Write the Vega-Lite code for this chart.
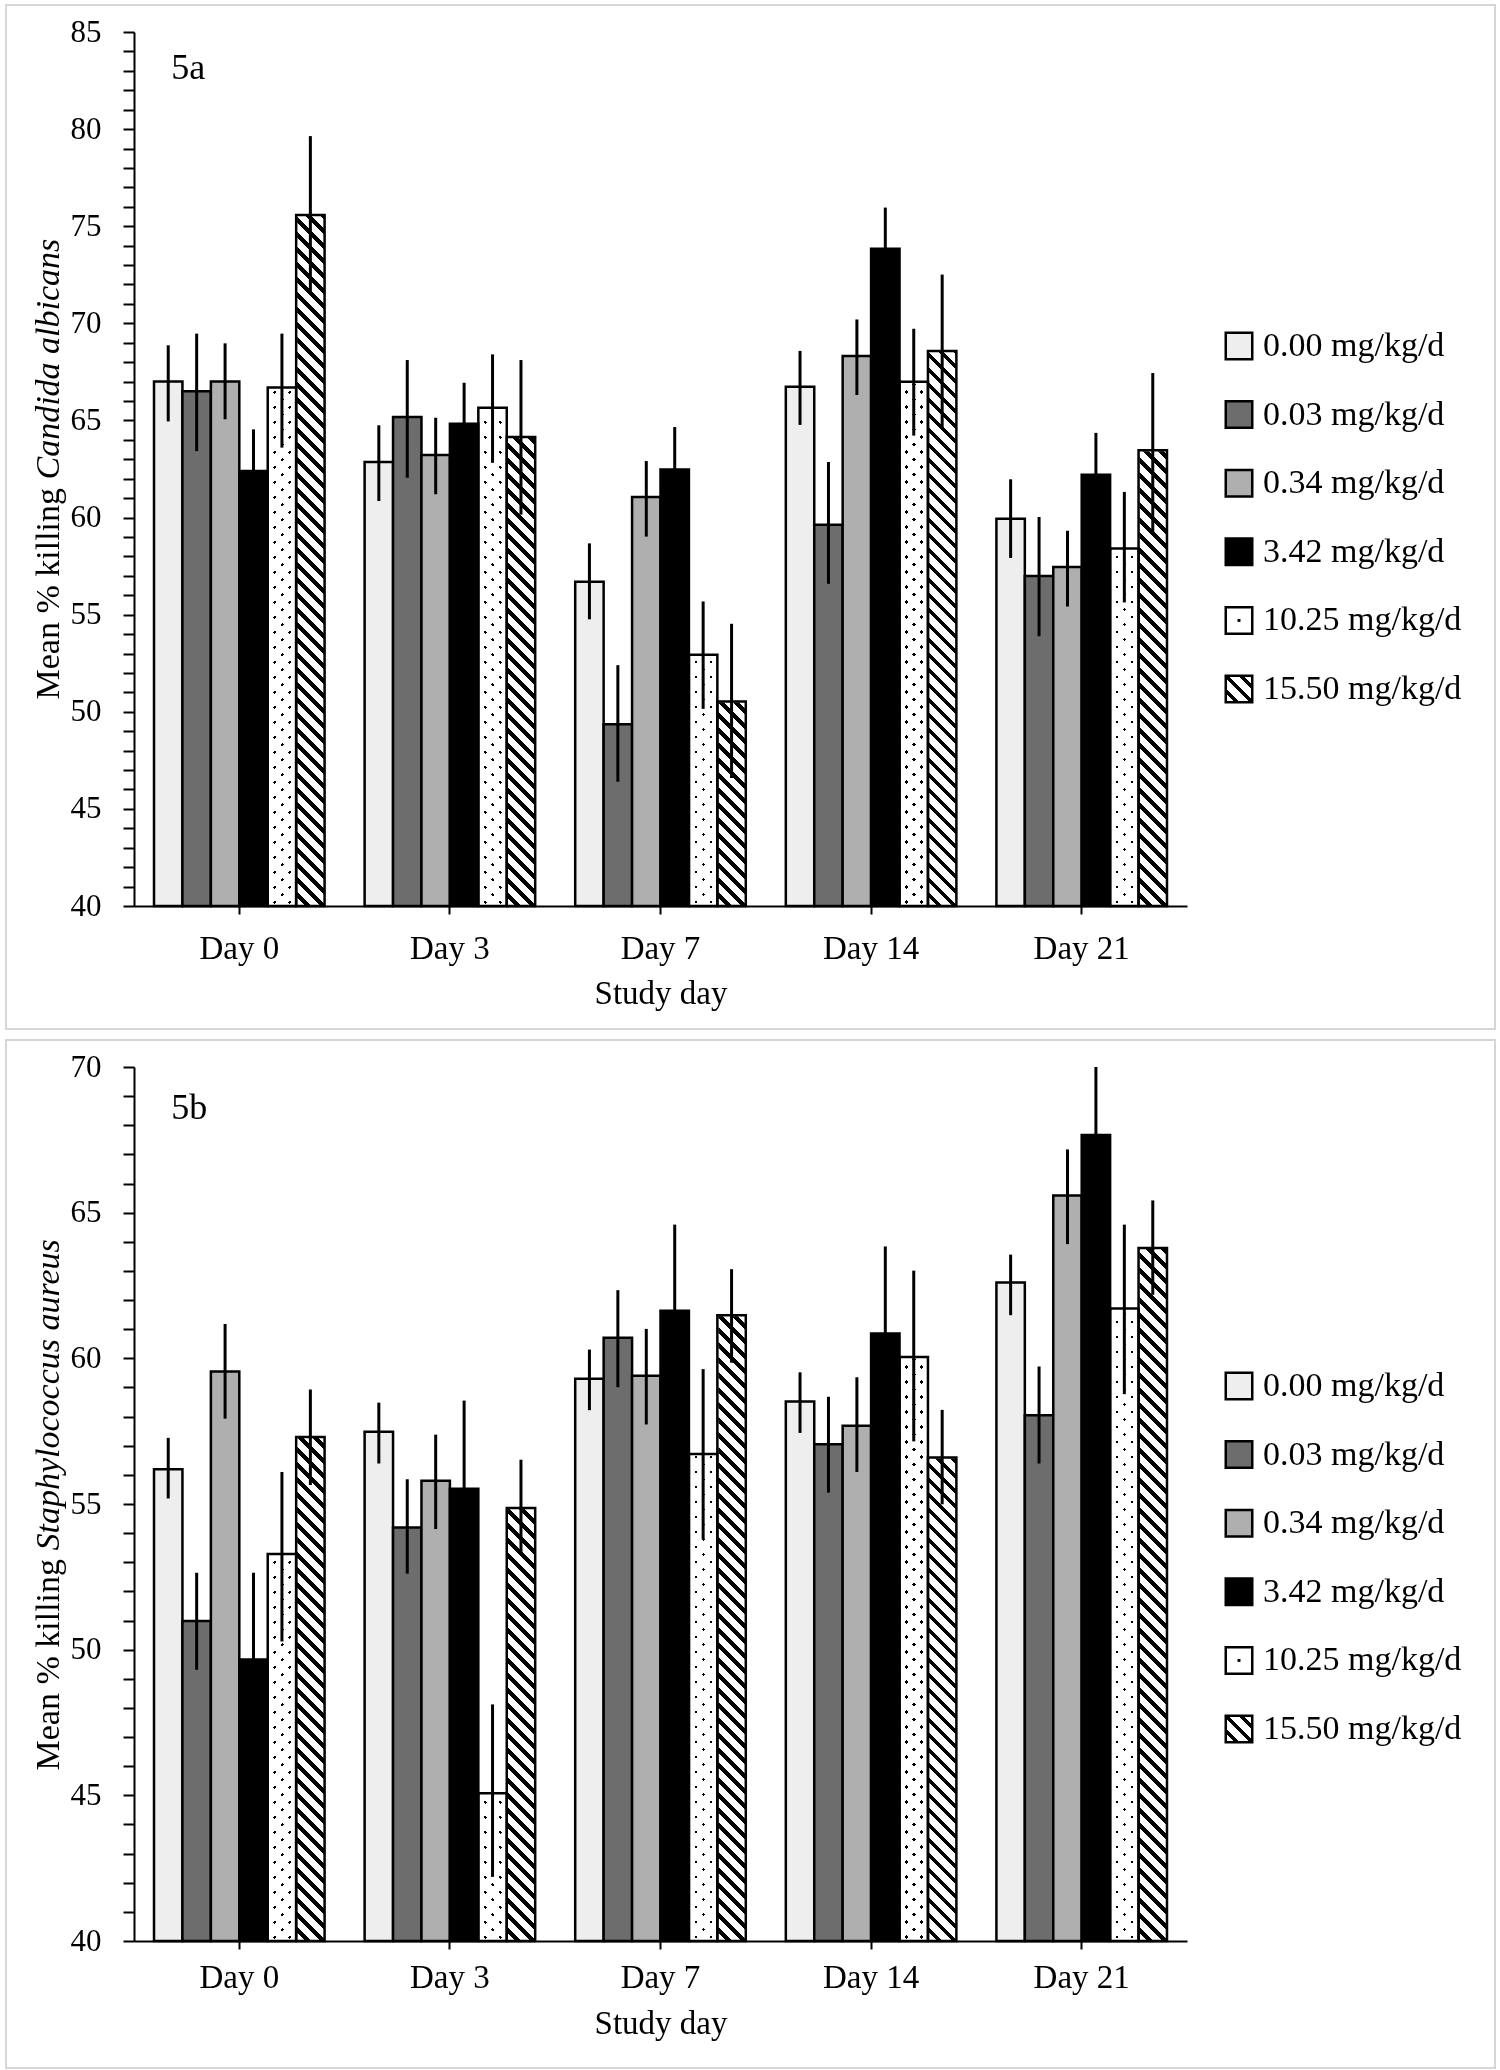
{
"$schema": "https://vega.github.io/schema/vega-lite/v6.json",
"background": "white",
"padding": {"left": 5, "top": 4, "right": 0, "bottom": 0},
"spacing": 9,
"params": [
{"name": "hatch", "value": {"gradient": "linear", "x1": 0, "y1": 1.0083, "x2": 0.043543, "y2": -0.06259, "stops": [
{"offset":0,"color":"#000"},{"offset":0.0076,"color":"#000"},{"offset":0.0076,"color":"#fff"},{"offset":0.02,"color":"#fff"},
{"offset":0.02,"color":"#000"},{"offset":0.0276,"color":"#000"},{"offset":0.0276,"color":"#fff"},{"offset":0.04,"color":"#fff"},
{"offset":0.04,"color":"#000"},{"offset":0.0476,"color":"#000"},{"offset":0.0476,"color":"#fff"},{"offset":0.06,"color":"#fff"},
{"offset":0.06,"color":"#000"},{"offset":0.0676,"color":"#000"},{"offset":0.0676,"color":"#fff"},{"offset":0.08,"color":"#fff"},
{"offset":0.08,"color":"#000"},{"offset":0.0876,"color":"#000"},{"offset":0.0876,"color":"#fff"},{"offset":0.1,"color":"#fff"},
{"offset":0.1,"color":"#000"},{"offset":0.1076,"color":"#000"},{"offset":0.1076,"color":"#fff"},{"offset":0.12,"color":"#fff"},
{"offset":0.12,"color":"#000"},{"offset":0.1276,"color":"#000"},{"offset":0.1276,"color":"#fff"},{"offset":0.14,"color":"#fff"},
{"offset":0.14,"color":"#000"},{"offset":0.1476,"color":"#000"},{"offset":0.1476,"color":"#fff"},{"offset":0.16,"color":"#fff"},
{"offset":0.16,"color":"#000"},{"offset":0.1676,"color":"#000"},{"offset":0.1676,"color":"#fff"},{"offset":0.18,"color":"#fff"},
{"offset":0.18,"color":"#000"},{"offset":0.1876,"color":"#000"},{"offset":0.1876,"color":"#fff"},{"offset":0.2,"color":"#fff"},
{"offset":0.2,"color":"#000"},{"offset":0.2076,"color":"#000"},{"offset":0.2076,"color":"#fff"},{"offset":0.22,"color":"#fff"},
{"offset":0.22,"color":"#000"},{"offset":0.2276,"color":"#000"},{"offset":0.2276,"color":"#fff"},{"offset":0.24,"color":"#fff"},
{"offset":0.24,"color":"#000"},{"offset":0.2476,"color":"#000"},{"offset":0.2476,"color":"#fff"},{"offset":0.26,"color":"#fff"},
{"offset":0.26,"color":"#000"},{"offset":0.2676,"color":"#000"},{"offset":0.2676,"color":"#fff"},{"offset":0.28,"color":"#fff"},
{"offset":0.28,"color":"#000"},{"offset":0.2876,"color":"#000"},{"offset":0.2876,"color":"#fff"},{"offset":0.3,"color":"#fff"},
{"offset":0.3,"color":"#000"},{"offset":0.3076,"color":"#000"},{"offset":0.3076,"color":"#fff"},{"offset":0.32,"color":"#fff"},
{"offset":0.32,"color":"#000"},{"offset":0.3276,"color":"#000"},{"offset":0.3276,"color":"#fff"},{"offset":0.34,"color":"#fff"},
{"offset":0.34,"color":"#000"},{"offset":0.3476,"color":"#000"},{"offset":0.3476,"color":"#fff"},{"offset":0.36,"color":"#fff"},
{"offset":0.36,"color":"#000"},{"offset":0.3676,"color":"#000"},{"offset":0.3676,"color":"#fff"},{"offset":0.38,"color":"#fff"},
{"offset":0.38,"color":"#000"},{"offset":0.3876,"color":"#000"},{"offset":0.3876,"color":"#fff"},{"offset":0.4,"color":"#fff"},
{"offset":0.4,"color":"#000"},{"offset":0.4076,"color":"#000"},{"offset":0.4076,"color":"#fff"},{"offset":0.42,"color":"#fff"},
{"offset":0.42,"color":"#000"},{"offset":0.4276,"color":"#000"},{"offset":0.4276,"color":"#fff"},{"offset":0.44,"color":"#fff"},
{"offset":0.44,"color":"#000"},{"offset":0.4476,"color":"#000"},{"offset":0.4476,"color":"#fff"},{"offset":0.46,"color":"#fff"},
{"offset":0.46,"color":"#000"},{"offset":0.4676,"color":"#000"},{"offset":0.4676,"color":"#fff"},{"offset":0.48,"color":"#fff"},
{"offset":0.48,"color":"#000"},{"offset":0.4876,"color":"#000"},{"offset":0.4876,"color":"#fff"},{"offset":0.5,"color":"#fff"},
{"offset":0.5,"color":"#000"},{"offset":0.5076,"color":"#000"},{"offset":0.5076,"color":"#fff"},{"offset":0.52,"color":"#fff"},
{"offset":0.52,"color":"#000"},{"offset":0.5276,"color":"#000"},{"offset":0.5276,"color":"#fff"},{"offset":0.54,"color":"#fff"},
{"offset":0.54,"color":"#000"},{"offset":0.5476,"color":"#000"},{"offset":0.5476,"color":"#fff"},{"offset":0.56,"color":"#fff"},
{"offset":0.56,"color":"#000"},{"offset":0.5676,"color":"#000"},{"offset":0.5676,"color":"#fff"},{"offset":0.58,"color":"#fff"},
{"offset":0.58,"color":"#000"},{"offset":0.5876,"color":"#000"},{"offset":0.5876,"color":"#fff"},{"offset":0.6,"color":"#fff"},
{"offset":0.6,"color":"#000"},{"offset":0.6076,"color":"#000"},{"offset":0.6076,"color":"#fff"},{"offset":0.62,"color":"#fff"},
{"offset":0.62,"color":"#000"},{"offset":0.6276,"color":"#000"},{"offset":0.6276,"color":"#fff"},{"offset":0.64,"color":"#fff"},
{"offset":0.64,"color":"#000"},{"offset":0.6476,"color":"#000"},{"offset":0.6476,"color":"#fff"},{"offset":0.66,"color":"#fff"},
{"offset":0.66,"color":"#000"},{"offset":0.6676,"color":"#000"},{"offset":0.6676,"color":"#fff"},{"offset":0.68,"color":"#fff"},
{"offset":0.68,"color":"#000"},{"offset":0.6876,"color":"#000"},{"offset":0.6876,"color":"#fff"},{"offset":0.7,"color":"#fff"},
{"offset":0.7,"color":"#000"},{"offset":0.7076,"color":"#000"},{"offset":0.7076,"color":"#fff"},{"offset":0.72,"color":"#fff"},
{"offset":0.72,"color":"#000"},{"offset":0.7276,"color":"#000"},{"offset":0.7276,"color":"#fff"},{"offset":0.74,"color":"#fff"},
{"offset":0.74,"color":"#000"},{"offset":0.7476,"color":"#000"},{"offset":0.7476,"color":"#fff"},{"offset":0.76,"color":"#fff"},
{"offset":0.76,"color":"#000"},{"offset":0.7676,"color":"#000"},{"offset":0.7676,"color":"#fff"},{"offset":0.78,"color":"#fff"},
{"offset":0.78,"color":"#000"},{"offset":0.7876,"color":"#000"},{"offset":0.7876,"color":"#fff"},{"offset":0.8,"color":"#fff"},
{"offset":0.8,"color":"#000"},{"offset":0.8076,"color":"#000"},{"offset":0.8076,"color":"#fff"},{"offset":0.82,"color":"#fff"},
{"offset":0.82,"color":"#000"},{"offset":0.8276,"color":"#000"},{"offset":0.8276,"color":"#fff"},{"offset":0.84,"color":"#fff"},
{"offset":0.84,"color":"#000"},{"offset":0.8476,"color":"#000"},{"offset":0.8476,"color":"#fff"},{"offset":0.86,"color":"#fff"},
{"offset":0.86,"color":"#000"},{"offset":0.8676,"color":"#000"},{"offset":0.8676,"color":"#fff"},{"offset":0.88,"color":"#fff"},
{"offset":0.88,"color":"#000"},{"offset":0.8876,"color":"#000"},{"offset":0.8876,"color":"#fff"},{"offset":0.9,"color":"#fff"},
{"offset":0.9,"color":"#000"},{"offset":0.9076,"color":"#000"},{"offset":0.9076,"color":"#fff"},{"offset":0.92,"color":"#fff"},
{"offset":0.92,"color":"#000"},{"offset":0.9276,"color":"#000"},{"offset":0.9276,"color":"#fff"},{"offset":0.94,"color":"#fff"},
{"offset":0.94,"color":"#000"},{"offset":0.9476,"color":"#000"},{"offset":0.9476,"color":"#fff"},{"offset":0.96,"color":"#fff"},
{"offset":0.96,"color":"#000"},{"offset":0.9676,"color":"#000"},{"offset":0.9676,"color":"#fff"},{"offset":0.98,"color":"#fff"},
{"offset":0.98,"color":"#000"},{"offset":0.9876,"color":"#000"},{"offset":0.9876,"color":"#fff"},{"offset":1,"color":"#fff"}
]}},
{"name": "dotA", "value": {"gradient": "linear", "x1": 0, "y1": 1.0083, "x2": 0.043543, "y2": -0.06259, "stops": [
{"offset":0,"color":"#000"},{"offset":0.0045,"color":"#000"},{"offset":0.0045,"color":"#fff"},{"offset":0.02,"color":"#fff"},
{"offset":0.02,"color":"#000"},{"offset":0.0245,"color":"#000"},{"offset":0.0245,"color":"#fff"},{"offset":0.04,"color":"#fff"},
{"offset":0.04,"color":"#000"},{"offset":0.0445,"color":"#000"},{"offset":0.0445,"color":"#fff"},{"offset":0.06,"color":"#fff"},
{"offset":0.06,"color":"#000"},{"offset":0.0645,"color":"#000"},{"offset":0.0645,"color":"#fff"},{"offset":0.08,"color":"#fff"},
{"offset":0.08,"color":"#000"},{"offset":0.0845,"color":"#000"},{"offset":0.0845,"color":"#fff"},{"offset":0.1,"color":"#fff"},
{"offset":0.1,"color":"#000"},{"offset":0.1045,"color":"#000"},{"offset":0.1045,"color":"#fff"},{"offset":0.12,"color":"#fff"},
{"offset":0.12,"color":"#000"},{"offset":0.1245,"color":"#000"},{"offset":0.1245,"color":"#fff"},{"offset":0.14,"color":"#fff"},
{"offset":0.14,"color":"#000"},{"offset":0.1445,"color":"#000"},{"offset":0.1445,"color":"#fff"},{"offset":0.16,"color":"#fff"},
{"offset":0.16,"color":"#000"},{"offset":0.1645,"color":"#000"},{"offset":0.1645,"color":"#fff"},{"offset":0.18,"color":"#fff"},
{"offset":0.18,"color":"#000"},{"offset":0.1845,"color":"#000"},{"offset":0.1845,"color":"#fff"},{"offset":0.2,"color":"#fff"},
{"offset":0.2,"color":"#000"},{"offset":0.2045,"color":"#000"},{"offset":0.2045,"color":"#fff"},{"offset":0.22,"color":"#fff"},
{"offset":0.22,"color":"#000"},{"offset":0.2245,"color":"#000"},{"offset":0.2245,"color":"#fff"},{"offset":0.24,"color":"#fff"},
{"offset":0.24,"color":"#000"},{"offset":0.2445,"color":"#000"},{"offset":0.2445,"color":"#fff"},{"offset":0.26,"color":"#fff"},
{"offset":0.26,"color":"#000"},{"offset":0.2645,"color":"#000"},{"offset":0.2645,"color":"#fff"},{"offset":0.28,"color":"#fff"},
{"offset":0.28,"color":"#000"},{"offset":0.2845,"color":"#000"},{"offset":0.2845,"color":"#fff"},{"offset":0.3,"color":"#fff"},
{"offset":0.3,"color":"#000"},{"offset":0.3045,"color":"#000"},{"offset":0.3045,"color":"#fff"},{"offset":0.32,"color":"#fff"},
{"offset":0.32,"color":"#000"},{"offset":0.3245,"color":"#000"},{"offset":0.3245,"color":"#fff"},{"offset":0.34,"color":"#fff"},
{"offset":0.34,"color":"#000"},{"offset":0.3445,"color":"#000"},{"offset":0.3445,"color":"#fff"},{"offset":0.36,"color":"#fff"},
{"offset":0.36,"color":"#000"},{"offset":0.3645,"color":"#000"},{"offset":0.3645,"color":"#fff"},{"offset":0.38,"color":"#fff"},
{"offset":0.38,"color":"#000"},{"offset":0.3845,"color":"#000"},{"offset":0.3845,"color":"#fff"},{"offset":0.4,"color":"#fff"},
{"offset":0.4,"color":"#000"},{"offset":0.4045,"color":"#000"},{"offset":0.4045,"color":"#fff"},{"offset":0.42,"color":"#fff"},
{"offset":0.42,"color":"#000"},{"offset":0.4245,"color":"#000"},{"offset":0.4245,"color":"#fff"},{"offset":0.44,"color":"#fff"},
{"offset":0.44,"color":"#000"},{"offset":0.4445,"color":"#000"},{"offset":0.4445,"color":"#fff"},{"offset":0.46,"color":"#fff"},
{"offset":0.46,"color":"#000"},{"offset":0.4645,"color":"#000"},{"offset":0.4645,"color":"#fff"},{"offset":0.48,"color":"#fff"},
{"offset":0.48,"color":"#000"},{"offset":0.4845,"color":"#000"},{"offset":0.4845,"color":"#fff"},{"offset":0.5,"color":"#fff"},
{"offset":0.5,"color":"#000"},{"offset":0.5045,"color":"#000"},{"offset":0.5045,"color":"#fff"},{"offset":0.52,"color":"#fff"},
{"offset":0.52,"color":"#000"},{"offset":0.5245,"color":"#000"},{"offset":0.5245,"color":"#fff"},{"offset":0.54,"color":"#fff"},
{"offset":0.54,"color":"#000"},{"offset":0.5445,"color":"#000"},{"offset":0.5445,"color":"#fff"},{"offset":0.56,"color":"#fff"},
{"offset":0.56,"color":"#000"},{"offset":0.5645,"color":"#000"},{"offset":0.5645,"color":"#fff"},{"offset":0.58,"color":"#fff"},
{"offset":0.58,"color":"#000"},{"offset":0.5845,"color":"#000"},{"offset":0.5845,"color":"#fff"},{"offset":0.6,"color":"#fff"},
{"offset":0.6,"color":"#000"},{"offset":0.6045,"color":"#000"},{"offset":0.6045,"color":"#fff"},{"offset":0.62,"color":"#fff"},
{"offset":0.62,"color":"#000"},{"offset":0.6245,"color":"#000"},{"offset":0.6245,"color":"#fff"},{"offset":0.64,"color":"#fff"},
{"offset":0.64,"color":"#000"},{"offset":0.6445,"color":"#000"},{"offset":0.6445,"color":"#fff"},{"offset":0.66,"color":"#fff"},
{"offset":0.66,"color":"#000"},{"offset":0.6645,"color":"#000"},{"offset":0.6645,"color":"#fff"},{"offset":0.68,"color":"#fff"},
{"offset":0.68,"color":"#000"},{"offset":0.6845,"color":"#000"},{"offset":0.6845,"color":"#fff"},{"offset":0.7,"color":"#fff"},
{"offset":0.7,"color":"#000"},{"offset":0.7045,"color":"#000"},{"offset":0.7045,"color":"#fff"},{"offset":0.72,"color":"#fff"},
{"offset":0.72,"color":"#000"},{"offset":0.7245,"color":"#000"},{"offset":0.7245,"color":"#fff"},{"offset":0.74,"color":"#fff"},
{"offset":0.74,"color":"#000"},{"offset":0.7445,"color":"#000"},{"offset":0.7445,"color":"#fff"},{"offset":0.76,"color":"#fff"},
{"offset":0.76,"color":"#000"},{"offset":0.7645,"color":"#000"},{"offset":0.7645,"color":"#fff"},{"offset":0.78,"color":"#fff"},
{"offset":0.78,"color":"#000"},{"offset":0.7845,"color":"#000"},{"offset":0.7845,"color":"#fff"},{"offset":0.8,"color":"#fff"},
{"offset":0.8,"color":"#000"},{"offset":0.8045,"color":"#000"},{"offset":0.8045,"color":"#fff"},{"offset":0.82,"color":"#fff"},
{"offset":0.82,"color":"#000"},{"offset":0.8245,"color":"#000"},{"offset":0.8245,"color":"#fff"},{"offset":0.84,"color":"#fff"},
{"offset":0.84,"color":"#000"},{"offset":0.8445,"color":"#000"},{"offset":0.8445,"color":"#fff"},{"offset":0.86,"color":"#fff"},
{"offset":0.86,"color":"#000"},{"offset":0.8645,"color":"#000"},{"offset":0.8645,"color":"#fff"},{"offset":0.88,"color":"#fff"},
{"offset":0.88,"color":"#000"},{"offset":0.8845,"color":"#000"},{"offset":0.8845,"color":"#fff"},{"offset":0.9,"color":"#fff"},
{"offset":0.9,"color":"#000"},{"offset":0.9045,"color":"#000"},{"offset":0.9045,"color":"#fff"},{"offset":0.92,"color":"#fff"},
{"offset":0.92,"color":"#000"},{"offset":0.9245,"color":"#000"},{"offset":0.9245,"color":"#fff"},{"offset":0.94,"color":"#fff"},
{"offset":0.94,"color":"#000"},{"offset":0.9445,"color":"#000"},{"offset":0.9445,"color":"#fff"},{"offset":0.96,"color":"#fff"},
{"offset":0.96,"color":"#000"},{"offset":0.9645,"color":"#000"},{"offset":0.9645,"color":"#fff"},{"offset":0.98,"color":"#fff"},
{"offset":0.98,"color":"#000"},{"offset":0.9845,"color":"#000"},{"offset":0.9845,"color":"#fff"},{"offset":1,"color":"#fff"}
]}},
{"name": "dotB", "expr": "merge(dotA, {x1: 0, y1: -0.0063, x2: 0.043543, y2: 1.0646})"},
{"name": "hatchLegend", "value": {"gradient": "linear", "x1": 0, "y1": 1, "x2": 1, "y2": 0, "stops": [
{"offset":0,"color":"#fff"},{"offset":0.163,"color":"#fff"},{"offset":0.163,"color":"#000"},{"offset":0.27,"color":"#000"},
{"offset":0.27,"color":"#fff"},{"offset":0.446,"color":"#fff"},{"offset":0.446,"color":"#000"},{"offset":0.554,"color":"#000"},
{"offset":0.554,"color":"#fff"},{"offset":0.73,"color":"#fff"},{"offset":0.73,"color":"#000"},{"offset":0.837,"color":"#000"},
{"offset":0.837,"color":"#fff"},{"offset":1,"color":"#fff"}
]}},
{"name": "dotLegend", "value": {"gradient": "radial", "x1": 0.5, "y1": 0.5, "r1": 0, "x2": 0.5, "y2": 0.5, "r2": 0.5, "stops": [
{"offset":0,"color":"#000"},{"offset":0.13,"color":"#000"},{"offset":0.13,"color":"#fff"},{"offset":1,"color":"#fff"}
]}}
],
"datasets": {
"a": [
{"day":"Day 0","dose":"0.00 mg/kg/d","mean":67.0,"lo":64.95,"hi":68.87},
{"day":"Day 0","dose":"0.03 mg/kg/d","mean":66.5,"lo":63.42,"hi":69.47},
{"day":"Day 0","dose":"0.34 mg/kg/d","mean":67.0,"lo":65.06,"hi":68.97},
{"day":"Day 0","dose":"3.42 mg/kg/d","mean":62.4,"lo":60.25,"hi":64.54},
{"day":"Day 0","dose":"10.25 mg/kg/d","mean":66.7,"lo":63.6,"hi":69.47},
{"day":"Day 0","dose":"15.50 mg/kg/d","mean":75.58,"lo":71.49,"hi":79.64},
{"day":"Day 3","dose":"0.00 mg/kg/d","mean":62.86,"lo":60.85,"hi":64.75},
{"day":"Day 3","dose":"0.03 mg/kg/d","mean":65.18,"lo":62.05,"hi":68.11},
{"day":"Day 3","dose":"0.34 mg/kg/d","mean":63.22,"lo":61.2,"hi":65.14},
{"day":"Day 3","dose":"3.42 mg/kg/d","mean":64.83,"lo":62.82,"hi":66.94},
{"day":"Day 3","dose":"10.25 mg/kg/d","mean":65.65,"lo":62.82,"hi":68.4},
{"day":"Day 3","dose":"15.50 mg/kg/d","mean":64.15,"lo":60.15,"hi":68.11},
{"day":"Day 7","dose":"0.00 mg/kg/d","mean":56.7,"lo":54.76,"hi":58.67},
{"day":"Day 7","dose":"0.03 mg/kg/d","mean":49.36,"lo":46.4,"hi":52.4},
{"day":"Day 7","dose":"0.34 mg/kg/d","mean":61.06,"lo":59.02,"hi":62.91},
{"day":"Day 7","dose":"3.42 mg/kg/d","mean":62.48,"lo":60.3,"hi":64.66},
{"day":"Day 7","dose":"10.25 mg/kg/d","mean":52.93,"lo":50.15,"hi":55.68},
{"day":"Day 7","dose":"15.50 mg/kg/d","mean":50.53,"lo":46.59,"hi":54.53},
{"day":"Day 14","dose":"0.00 mg/kg/d","mean":66.73,"lo":64.77,"hi":68.58},
{"day":"Day 14","dose":"0.03 mg/kg/d","mean":59.63,"lo":56.59,"hi":62.86},
{"day":"Day 14","dose":"0.34 mg/kg/d","mean":68.32,"lo":66.31,"hi":70.2},
{"day":"Day 14","dose":"3.42 mg/kg/d","mean":73.84,"lo":71.65,"hi":75.96},
{"day":"Day 14","dose":"10.25 mg/kg/d","mean":66.99,"lo":64.22,"hi":69.72},
{"day":"Day 14","dose":"15.50 mg/kg/d","mean":68.58,"lo":64.6,"hi":72.51},
{"day":"Day 21","dose":"0.00 mg/kg/d","mean":59.94,"lo":57.92,"hi":61.97},
{"day":"Day 21","dose":"0.03 mg/kg/d","mean":56.99,"lo":53.89,"hi":60.03},
{"day":"Day 21","dose":"0.34 mg/kg/d","mean":57.46,"lo":55.42,"hi":59.32},
{"day":"Day 21","dose":"3.42 mg/kg/d","mean":62.21,"lo":60.05,"hi":64.36},
{"day":"Day 21","dose":"10.25 mg/kg/d","mean":58.41,"lo":55.63,"hi":61.32},
{"day":"Day 21","dose":"15.50 mg/kg/d","mean":63.46,"lo":59.2,"hi":67.44}
],
"b": [
{"day":"Day 0","dose":"0.00 mg/kg/d","mean":56.19,"lo":55.19,"hi":57.27},
{"day":"Day 0","dose":"0.03 mg/kg/d","mean":50.98,"lo":49.31,"hi":52.64},
{"day":"Day 0","dose":"0.34 mg/kg/d","mean":59.55,"lo":57.93,"hi":61.18},
{"day":"Day 0","dose":"3.42 mg/kg/d","mean":49.66,"lo":46.7,"hi":52.64},
{"day":"Day 0","dose":"10.25 mg/kg/d","mean":53.28,"lo":50.28,"hi":56.1},
{"day":"Day 0","dose":"15.50 mg/kg/d","mean":57.3,"lo":55.65,"hi":58.93},
{"day":"Day 3","dose":"0.00 mg/kg/d","mean":57.48,"lo":56.39,"hi":58.48},
{"day":"Day 3","dose":"0.03 mg/kg/d","mean":54.19,"lo":52.61,"hi":55.85},
{"day":"Day 3","dose":"0.34 mg/kg/d","mean":55.8,"lo":54.14,"hi":57.38},
{"day":"Day 3","dose":"3.42 mg/kg/d","mean":55.52,"lo":52.5,"hi":58.55},
{"day":"Day 3","dose":"10.25 mg/kg/d","mean":45.07,"lo":42.2,"hi":48.12},
{"day":"Day 3","dose":"15.50 mg/kg/d","mean":54.86,"lo":53.28,"hi":56.52},
{"day":"Day 7","dose":"0.00 mg/kg/d","mean":59.3,"lo":58.22,"hi":60.3},
{"day":"Day 7","dose":"0.03 mg/kg/d","mean":60.71,"lo":59.01,"hi":62.34},
{"day":"Day 7","dose":"0.34 mg/kg/d","mean":59.4,"lo":57.73,"hi":61.01},
{"day":"Day 7","dose":"3.42 mg/kg/d","mean":61.63,"lo":58.7,"hi":64.59},
{"day":"Day 7","dose":"10.25 mg/kg/d","mean":56.72,"lo":53.78,"hi":59.63},
{"day":"Day 7","dose":"15.50 mg/kg/d","mean":61.48,"lo":59.85,"hi":63.06},
{"day":"Day 14","dose":"0.00 mg/kg/d","mean":58.52,"lo":57.44,"hi":59.52},
{"day":"Day 14","dose":"0.03 mg/kg/d","mean":57.05,"lo":55.39,"hi":58.68},
{"day":"Day 14","dose":"0.34 mg/kg/d","mean":57.69,"lo":56.1,"hi":59.35},
{"day":"Day 14","dose":"3.42 mg/kg/d","mean":60.85,"lo":57.9,"hi":63.84},
{"day":"Day 14","dose":"10.25 mg/kg/d","mean":60.05,"lo":57.15,"hi":63.01},
{"day":"Day 14","dose":"15.50 mg/kg/d","mean":56.6,"lo":54.99,"hi":58.23},
{"day":"Day 21","dose":"0.00 mg/kg/d","mean":62.6,"lo":61.48,"hi":63.56},
{"day":"Day 21","dose":"0.03 mg/kg/d","mean":58.05,"lo":56.39,"hi":59.72},
{"day":"Day 21","dose":"0.34 mg/kg/d","mean":65.59,"lo":63.92,"hi":67.17},
{"day":"Day 21","dose":"3.42 mg/kg/d","mean":67.67,"lo":65.3,"hi":70.0},
{"day":"Day 21","dose":"10.25 mg/kg/d","mean":61.71,"lo":58.77,"hi":64.59},
{"day":"Day 21","dose":"15.50 mg/kg/d","mean":63.79,"lo":62.18,"hi":65.42}
]
},
"resolve": {"scale": {"fill": "independent"}, "legend": {"fill": "independent"}},
"vconcat": [
{
"width": 1489, "height": 1024,
"data": {"name": "a"},
"resolve": {"axis": {"y": "independent"}},
"encoding": {
"x": {"field": "day", "type": "nominal",
 "scale": {"domain": ["Day 0","Day 3","Day 7","Day 14","Day 21"], "range": [128, 1181], "paddingInner": 0, "paddingOuter": 0},
 "axis": {"title": "Study day", "offset": -123, "titleX": 654.5, "titleY": 97, "titleAlign": "center", "titleBaseline": "alphabetic"}},
"xOffset": {"field": "dose", "type": "nominal",
 "scale": {"domain": ["0.00 mg/kg/d","0.03 mg/kg/d","0.34 mg/kg/d","3.42 mg/kg/d","10.25 mg/kg/d","15.50 mg/kg/d"], "paddingInner": 0, "paddingOuter": 0.704}}
},
"layer": [
{"transform": [{"filter": "datum.dose === '15.50 mg/kg/d'"}],
 "mark": {"type": "bar", "fill": {"expr": "hatch"}, "stroke": null},
 "encoding": {"y": {"datum": 76, "type": "quantitative", "axis": null}, "y2": {"datum": 40}}},
{"transform": [{"filter": "datum.dose === '10.25 mg/kg/d'"}],
 "mark": {"type": "bar", "fill": {"expr": "dotA"}, "stroke": null},
 "encoding": {"y": {"datum": 76, "type": "quantitative", "axis": null}, "y2": {"datum": 40}}},
{"transform": [{"filter": "datum.dose === '10.25 mg/kg/d'"}],
 "mark": {"type": "bar", "fill": {"expr": "dotB"}, "stroke": null, "blend": "lighten"},
 "encoding": {"y": {"datum": 76, "type": "quantitative", "axis": null}, "y2": {"datum": 40}}},
{"transform": [{"filter": "datum.dose === '15.50 mg/kg/d' || datum.dose === '10.25 mg/kg/d'"}],
 "mark": {"type": "bar", "fill": "white", "stroke": "white", "strokeWidth": 2},
 "encoding": {"y": {"field": "mean", "type": "quantitative", "axis": null}, "y2": {"datum": 76}}},
{"mark": {"type": "bar", "stroke": "black", "strokeWidth": 2.5},
 "encoding": {
  "y": {"field": "mean", "type": "quantitative",
   "scale": {"domain": [40, 85], "range": [901, 27], "zero": false, "nice": false},
   "axis": {"title": "Mean % killing", "offset": -128, "tickCount": 45, "labelExpr": "datum.value % 5 === 0 ? datum.label : ''", "labelOverlap": false, "labelFlush": false, "titleAngle": 270, "titleAlign": "left", "titleBaseline": "alphabetic", "titleX": -76, "titleY": 694}},
  "y2": {"datum": 40},
  "fill": {"field": "dose", "type": "nominal",
   "condition": {"test": "datum.dose === '15.50 mg/kg/d' || datum.dose === '10.25 mg/kg/d'", "value": "transparent"},
   "scale": {"domain": ["0.00 mg/kg/d","0.03 mg/kg/d","0.34 mg/kg/d","3.42 mg/kg/d","10.25 mg/kg/d","15.50 mg/kg/d"], "range": ["#eeeeee","#6d6d6d","#afafaf","#000000",{"expr": "dotLegend"},{"expr": "hatchLegend"}]},
   "legend": {"orient": "none", "legendX": 1216, "legendY": 324, "title": null,
    "encoding": {"symbols": {"stroke": {"value": "black"}, "strokeWidth": {"value": 2.5}}}}}
 }},
{"mark": {"type": "rule", "color": "black", "strokeWidth": 3},
 "encoding": {
  "y": {"field": "lo", "type": "quantitative",
   "axis": {"title": "Candida albicans", "orient": "left", "offset": -128, "domain": false, "ticks": false, "labels": false, "titleFontStyle": "italic", "titleAngle": 270, "titleAlign": "left", "titleBaseline": "alphabetic", "titleX": -76, "titleY": 474}},
  "y2": {"field": "hi"}}},
{"data": {"values": [{"label": "5a"}]},
 "mark": {"type": "text", "fontSize": 36, "align": "left", "baseline": "alphabetic", "color": "black", "dx": 3},
 "encoding": {"text": {"field": "label"},
  "x": {"datum": "Day 0", "type": "nominal",
   "axis": {"title": "Study day", "offset": -123, "titleX": 654.5, "titleY": 97, "titleAlign": "center", "titleBaseline": "alphabetic"}},
  "xOffset": {"datum": "0.00 mg/kg/d", "type": "nominal"},
  "y": {"datum": 82.6, "type": "quantitative", "axis": null}}}
]
},
{
"width": 1489, "height": 1028,
"data": {"name": "b"},
"resolve": {"axis": {"y": "independent"}},
"encoding": {
"x": {"field": "day", "type": "nominal",
 "scale": {"domain": ["Day 0","Day 3","Day 7","Day 14","Day 21"], "range": [128, 1181], "paddingInner": 0, "paddingOuter": 0},
 "axis": {"title": "Study day", "offset": -127, "labelPadding": 12, "titleX": 654.5, "titleY": 92, "titleAlign": "center", "titleBaseline": "alphabetic"}},
"xOffset": {"field": "dose", "type": "nominal",
 "scale": {"domain": ["0.00 mg/kg/d","0.03 mg/kg/d","0.34 mg/kg/d","3.42 mg/kg/d","10.25 mg/kg/d","15.50 mg/kg/d"], "paddingInner": 0, "paddingOuter": 0.704}}
},
"layer": [
{"transform": [{"filter": "datum.dose === '15.50 mg/kg/d'"}],
 "mark": {"type": "bar", "fill": {"expr": "hatch"}, "stroke": null},
 "encoding": {"y": {"datum": 64, "type": "quantitative", "axis": null}, "y2": {"datum": 40}}},
{"transform": [{"filter": "datum.dose === '10.25 mg/kg/d'"}],
 "mark": {"type": "bar", "fill": {"expr": "dotA"}, "stroke": null},
 "encoding": {"y": {"datum": 64, "type": "quantitative", "axis": null}, "y2": {"datum": 40}}},
{"transform": [{"filter": "datum.dose === '10.25 mg/kg/d'"}],
 "mark": {"type": "bar", "fill": {"expr": "dotB"}, "stroke": null, "blend": "lighten"},
 "encoding": {"y": {"datum": 64, "type": "quantitative", "axis": null}, "y2": {"datum": 40}}},
{"transform": [{"filter": "datum.dose === '15.50 mg/kg/d' || datum.dose === '10.25 mg/kg/d'"}],
 "mark": {"type": "bar", "fill": "white", "stroke": "white", "strokeWidth": 2},
 "encoding": {"y": {"field": "mean", "type": "quantitative", "axis": null}, "y2": {"datum": 64}}},
{"mark": {"type": "bar", "stroke": "black", "strokeWidth": 2.5},
 "encoding": {
  "y": {"field": "mean", "type": "quantitative",
   "scale": {"domain": [40, 70], "range": [901, 27], "zero": false, "nice": false},
   "axis": {"title": "Mean % killing", "offset": -128, "tickCount": 30, "labelExpr": "datum.value % 5 === 0 ? datum.label : ''", "labelOverlap": false, "labelFlush": false, "titleAngle": 270, "titleAlign": "left", "titleBaseline": "alphabetic", "titleX": -76, "titleY": 730}},
  "y2": {"datum": 40},
  "fill": {"field": "dose", "type": "nominal",
   "condition": {"test": "datum.dose === '15.50 mg/kg/d' || datum.dose === '10.25 mg/kg/d'", "value": "transparent"},
   "scale": {"domain": ["0.00 mg/kg/d","0.03 mg/kg/d","0.34 mg/kg/d","3.42 mg/kg/d","10.25 mg/kg/d","15.50 mg/kg/d"], "range": ["#eeeeee","#6d6d6d","#afafaf","#000000",{"expr": "dotLegend"},{"expr": "hatchLegend"}]},
   "legend": {"orient": "none", "legendX": 1216, "legendY": 329, "title": null,
    "encoding": {"symbols": {"stroke": {"value": "black"}, "strokeWidth": {"value": 2.5}}}}}
 }},
{"mark": {"type": "rule", "color": "black", "strokeWidth": 3},
 "encoding": {
  "y": {"field": "lo", "type": "quantitative",
   "axis": {"title": "Staphylococcus aureus", "orient": "left", "offset": -128, "domain": false, "ticks": false, "labels": false, "titleFontStyle": "italic", "titleAngle": 270, "titleAlign": "left", "titleBaseline": "alphabetic", "titleX": -76, "titleY": 510}},
  "y2": {"field": "hi"}}},
{"data": {"values": [{"label": "5b"}]},
 "mark": {"type": "text", "fontSize": 36, "align": "left", "baseline": "alphabetic", "color": "black", "dx": 3},
 "encoding": {"text": {"field": "label"},
  "x": {"datum": "Day 0", "type": "nominal",
   "axis": {"title": "Study day", "offset": -127, "labelPadding": 12, "titleX": 654.5, "titleY": 92, "titleAlign": "center", "titleBaseline": "alphabetic"}},
  "xOffset": {"datum": "0.00 mg/kg/d", "type": "nominal"},
  "y": {"datum": 68.2, "type": "quantitative", "axis": null}}}
]
}
],
"config": {
"font": "Liberation Serif",
"view": {"stroke": "#d6d6d6", "strokeWidth": 2},
"axis": {"domainColor": "black", "domainWidth": 2, "tickColor": "black", "tickWidth": 2, "labelColor": "black", "titleColor": "black", "titleFontWeight": "normal", "grid": false, "labelFontSize": 31, "titleFontSize": 34, "labelFont": "Liberation Serif", "titleFont": "Liberation Serif"},
"axisX": {"labelFontSize": 33, "titleFontSize": 33, "tickSize": 8, "labelPadding": 18, "labelAngle": 0},
"axisY": {"tickSize": 11, "labelPadding": 22},
"legend": {"direction": "vertical", "symbolType": "square", "symbolSize": 702, "symbolStrokeColor": "black", "symbolStrokeWidth": 2.5, "labelFont": "Liberation Serif", "labelFontSize": 34, "labelColor": "black", "labelOffset": 7, "rowPadding": 30.6, "padding": 0, "labelLimit": 400}
}
}
